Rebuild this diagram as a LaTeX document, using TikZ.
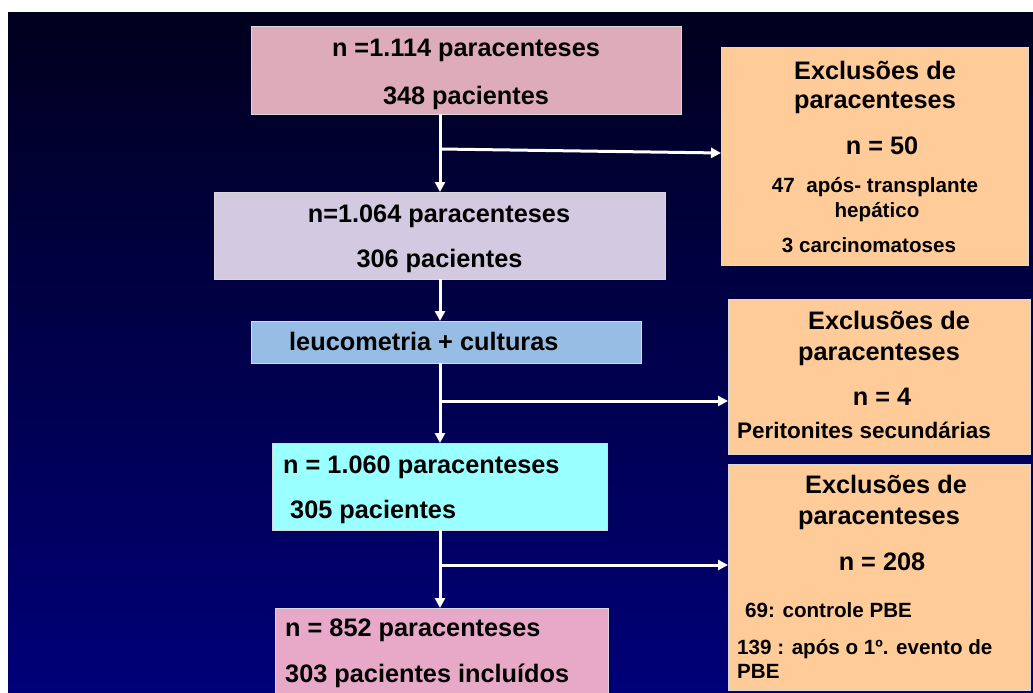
\documentclass[tikz,border=0pt]{standalone}
\usepackage{fontspec}
\setmainfont{Liberation Sans}
\usetikzlibrary{arrows.meta}
\definecolor{bgtop}{RGB}{0,0,30}
\definecolor{bgbot}{RGB}{0,0,120}
\definecolor{pinkA}{RGB}{222,171,186}
\definecolor{peach}{RGB}{255,204,153}
\definecolor{lav}{RGB}{211,202,225}
\definecolor{bluebox}{RGB}{151,189,229}
\definecolor{cyanbox}{RGB}{153,255,255}
\definecolor{pinkB}{RGB}{232,168,200}
\tikzset{
  box/.style={draw=white!85!black, line width=1pt, inner sep=0pt, outer sep=0pt},
  arr/.style={draw=white, line width=3pt, -{Triangle[length=10pt,width=10pt]}},
  big/.style={font=\fontsize{25.3}{30}\selectfont\bfseries, text=black, inner sep=0pt},
  med/.style={font=\fontsize{22.5}{27}\selectfont\bfseries, text=black, inner sep=0pt},
  sml/.style={font=\fontsize{20.6}{25}\selectfont\bfseries, text=black, inner sep=0pt},
}
\begin{document}
\begin{tikzpicture}[x=1pt, y=-1pt]
\clip (0,0) rectangle (1033,693);
\fill[white] (0,0) rectangle (1033,693);
\shade[top color=bgtop, bottom color=bgbot] (8,13) rectangle (1033,693);

% boxes
\node[box, fill=pinkA, minimum width=430pt, minimum height=87pt] (top) at (466,70.5) {};
\node[box, fill=peach, minimum width=307pt, minimum height=217pt] (ex1) at (874.5,156.5) {};
\node[box, fill=lav, minimum width=451pt, minimum height=87pt] (lav) at (439.5,235.5) {};
\node[box, fill=bluebox, minimum width=390pt, minimum height=42pt] (blue) at (446,342) {};
\node[box, fill=peach, minimum width=302pt, minimum height=155pt] (ex2) at (879,376.5) {};
\node[box, fill=cyanbox, minimum width=335pt, minimum height=87pt] (cyan) at (439.5,486.5) {};
\node[box, fill=pinkB, minimum width=333pt, minimum height=112pt] (fin) at (441.5,664) {};
\node[box, fill=peach, minimum width=302pt, minimum height=226pt] (ex3) at (879,577) {};

% texts
\node[big, anchor=base] (topA) at (466,57) {n =1.114 paracenteses};
\node[big, anchor=base] (topB) at (466,104) {348 pacientes};

\node[big, anchor=base] (ex1A) at (875,79) {Exclusões de};
\node[big, anchor=base] (ex1B) at (875,108) {paracenteses};
\node[big, anchor=base] (ex1C) at (882,154) {n = 50};
\node[sml, anchor=base] (ex1D) at (875,192) {47~~após- transplante};
\node[sml, anchor=base] (ex1E) at (877,217) {hepático};
\node[sml, anchor=base] (ex1F) at (869,252) {3 carcinomatoses};

\node[big, anchor=base] (lavA) at (439,222) {n=1.064 paracenteses};
\node[big, anchor=base] (lavB) at (439.5,267) {306 pacientes};

\node[big, anchor=base west] (blueA) at (289,350) {leucometria + culturas};

\node[big, anchor=base] (ex2A) at (889,329) {Exclusões de};
\node[big, anchor=base] (ex2B) at (879,360) {paracenteses};
\node[big, anchor=base] (ex2C) at (882,405) {n = 4};
\node[med, anchor=base] (ex2D) at (864,438) {Peritonites secundárias};

\node[big, anchor=base west] (cyanA) at (283,473) {n = 1.060 paracenteses};
\node[big, anchor=base west] (cyanB) at (290,518) {305 pacientes};

\node[big, anchor=base west] (finA) at (285,636) {n = 852 paracenteses};
\node[big, anchor=base west] (finB) at (285,682) {303 pacientes incluídos};

\node[big, anchor=base] (ex3A) at (886,493) {Exclusões de};
\node[big, anchor=base] (ex3B) at (879,524) {paracenteses};
\node[big, anchor=base] (ex3C) at (882,570) {n = 208};
\node[sml, anchor=base west] (ex3D) at (745,617) {69: controle PBE};
\node[sml, anchor=base west] (ex3E) at (737,654) {139 : após o 1º. evento de};
\node[sml, anchor=base west] (ex3F) at (737,678) {PBE};

% connectors
\coordinate (sp) at (440,0);
\coordinate (j1) at (440,149);
\coordinate (e1) at (721,153);
\coordinate (j2) at (440,401);
\coordinate (j3) at (440,565);
\draw[arr] (top.south -| sp) -- (lav.north -| sp);
\draw[arr] (j1) -- (e1);
\draw[arr] (lav.south -| sp) -- (blue.north -| sp);
\draw[arr] (blue.south -| sp) -- (cyan.north -| sp);
\draw[arr] (j2) -- (ex2.west |- j2);
\draw[arr] (cyan.south -| sp) -- (fin.north -| sp);
\draw[arr] (j3) -- (ex3.west |- j3);
\end{tikzpicture}
\end{document}
